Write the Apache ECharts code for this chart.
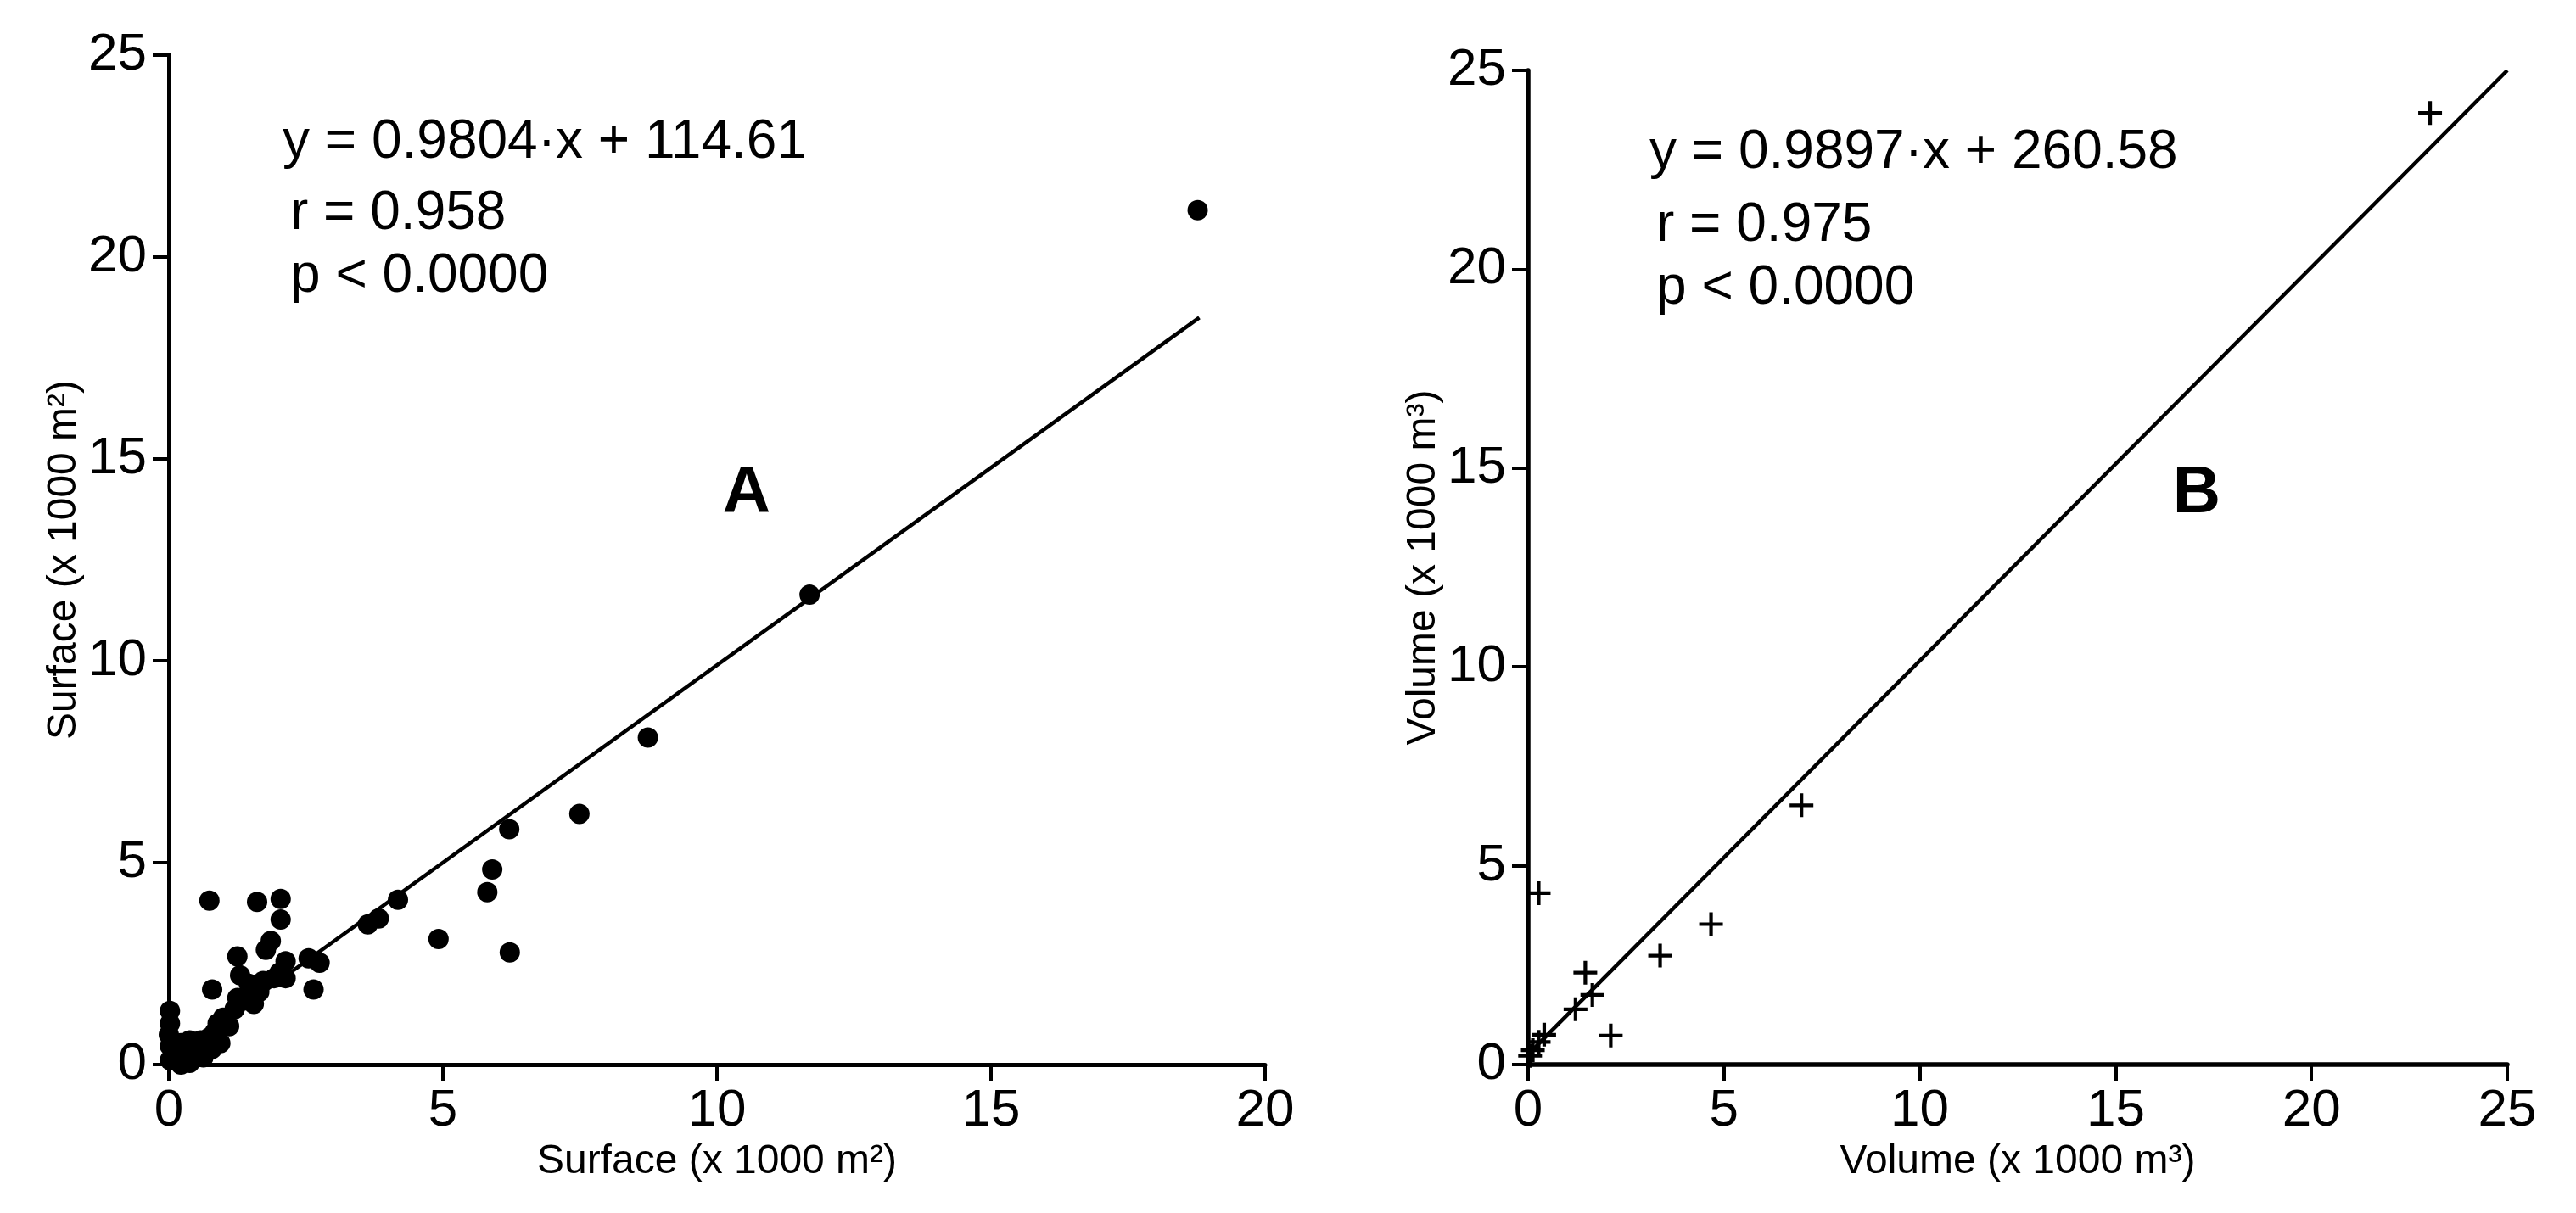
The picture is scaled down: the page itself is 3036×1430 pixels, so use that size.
<!DOCTYPE html>
<html>
<head>
<meta charset="utf-8">
<title>Surface / Volume</title>
<script src="https://cdn.jsdelivr.net/npm/echarts@6/dist/echarts.min.js"></script>
<style>
  html, body { margin: 0; padding: 0; background: #fff; }
  #chart { width: 3036px; height: 1430px; }
</style>
</head>
<body>
<div id="chart"></div>
<script>
// panel A: surface, filled circles
const surfaceX = [0.74, 1.61, 2.04, 2.04, 1.86, 1.77, 1.25, 2.55, 2.75, 0.79, 2.64, 2.13, 2.02, 1.30, 1.46,
  1.72, 1.92, 2.13, 1.51, 1.35, 1.25, 1.20, 0.99, 0.89, 0.84, 0.94, 0.74, 0.58, 0.38, 0.22,
  0.02, 0.02, 0.00, 0.02, 0.02, 0.12, 0.32, 0.53, 0.38, 0.22, 0.63, 0.79, 1.10, 1.55, 1.65,
  4.18, 3.83, 3.63, 4.92, 5.81, 5.90, 6.21, 6.22, 7.49, 8.74, 11.69, 18.77]
const surfaceY = [4.06, 4.03, 4.10, 3.59, 3.06, 2.84, 2.68, 2.63, 2.52, 1.86, 1.86, 2.56, 2.28, 2.21, 2.00,
  2.07, 2.14, 2.14, 1.79, 1.58, 1.65, 1.37, 1.16, 1.02, 0.81, 0.53, 0.67, 0.60, 0.60, 0.53,
  1.33, 1.02, 0.74, 0.46, 0.11, 0.25, 0.25, 0.32, 0.04, 0.00, 0.18, 0.39, 0.95, 1.50, 1.80,
  4.08, 3.62, 3.47, 3.11, 4.27, 4.83, 5.83, 2.78, 6.21, 8.10, 11.64, 21.16]

// panel B: volume, crosses
const volumeX = [0.27, 6.98, 4.67, 3.37, 1.46, 1.64, 1.21, 2.11, 0.41, 0.27, 0.12, 0.05, 23.03]
const volumeY = [4.31, 6.52, 3.53, 2.74, 2.31, 1.75, 1.39, 0.73, 0.75, 0.57, 0.36, 0.22, 23.93]

// regression lines, end points
const fitAX = [0, 18.8]
const fitAY = [0.11, 18.5]
const fitBX = [0, 25]
const fitBY = [0.26, 25.0]

const ticksAX = [0, 5, 10, 15, 20]
const ticksAY = [0, 5, 10, 15, 20, 25]
const ticksBX = [0, 5, 10, 15, 20, 25]
const ticksBY = [0, 5, 10, 15, 20, 25]

const textA = ['y = 0.9804·x + 114.61', 'r = 0.958', 'p < 0.0000']
const textB = ['y = 0.9897·x + 260.58', 'r = 0.975', 'p < 0.0000']

const FONT = '"Liberation Sans", Arial, Helvetica, sans-serif'
const plus = 'path://M10.2,0 H13.8 V10.2 H24 V13.8 H13.8 V24 H10.2 V13.8 H0 V10.2 H10.2 Z'

function pairs(xs, ys) {
  return xs.map((x, i) => [x, ys[i]])
}

function valueAxis(ticks, gridIndex, name, isX, width) {
  return {
    type: 'value',
    gridIndex: gridIndex,
    min: ticks[0],
    max: ticks[ticks.length - 1],
    interval: ticks[1] - ticks[0],
    name: name,
    nameLocation: 'middle',
    nameGap: isX ? 84 : 98,
    nameTextStyle: { fontFamily: FONT, fontSize: 48, color: '#000' },
    axisLine: { show: true, onZero: false, lineStyle: { color: '#000', width: width } },
    axisTick: { show: true, inside: false, length: 19, lineStyle: { color: '#000', width: 4 } },
    axisLabel: { show: true, margin: isX ? 24 : 26, fontFamily: FONT, fontSize: 62, color: '#000', hideOverlap: false },
    splitLine: { show: false }
  }
}

function textLines(lines, x, indent, ys) {
  return lines.map((t, i) => ({
    type: 'text',
    x: i === 0 ? x : x + indent,
    y: ys[i],
    style: { text: t, fontFamily: FONT, fontSize: 64, fill: '#000', verticalAlign: 'middle' }
  }))
}

const chart = echarts.init(document.getElementById('chart'), null, { renderer: 'canvas' })

const option = {
  backgroundColor: '#fff',
  animation: false,
  grid: [
    { left: 199, top: 65, width: 1292, height: 1190, outerBoundsMode: 'none' },
    { left: 1801, top: 83, width: 1154, height: 1172, outerBoundsMode: 'none' }
  ],
  xAxis: [
    valueAxis(ticksAX, 0, 'Surface (x 1000 m²)', true, 5),
    valueAxis(ticksBX, 1, 'Volume (x 1000 m³)', true, 5.5)
  ],
  yAxis: [
    valueAxis(ticksAY, 0, 'Surface (x 1000 m²)', false, 5),
    valueAxis(ticksBY, 1, 'Volume (x 1000 m³)', false, 5.5)
  ],
  series: [
    {
      type: 'line',
      xAxisIndex: 0,
      yAxisIndex: 0,
      data: pairs(fitAX, fitAY),
      showSymbol: false,
      lineStyle: { color: '#000', width: 4.5 },
      z: 2
    },
    {
      type: 'scatter',
      xAxisIndex: 0,
      yAxisIndex: 0,
      data: pairs(surfaceX, surfaceY),
      symbol: 'circle',
      symbolSize: 24,
      itemStyle: { color: '#000', opacity: 1 },
      z: 3
    },
    {
      type: 'line',
      xAxisIndex: 1,
      yAxisIndex: 1,
      data: pairs(fitBX, fitBY),
      showSymbol: false,
      lineStyle: { color: '#000', width: 4.5 },
      z: 2
    },
    {
      type: 'scatter',
      xAxisIndex: 1,
      yAxisIndex: 1,
      data: pairs(volumeX, volumeY),
      symbol: plus,
      symbolSize: 28,
      itemStyle: { color: '#000', opacity: 1 },
      z: 3
    }
  ],
  graphic: [
    ...textLines(textA, 333, 9, [168, 252, 326]),
    ...textLines(textB, 1944, 8, [180, 266, 340]),
    {
      type: 'text', x: 880, y: 582,
      style: { text: 'A', fontFamily: FONT, fontSize: 78, fontWeight: 'bold', fill: '#000', align: 'center', verticalAlign: 'middle' }
    },
    {
      type: 'text', x: 2589, y: 582,
      style: { text: 'B', fontFamily: FONT, fontSize: 78, fontWeight: 'bold', fill: '#000', align: 'center', verticalAlign: 'middle' }
    }
  ]
}

chart.setOption(option)

window.addEventListener('resize', () => chart.resize())
</script>
</body>
</html>
